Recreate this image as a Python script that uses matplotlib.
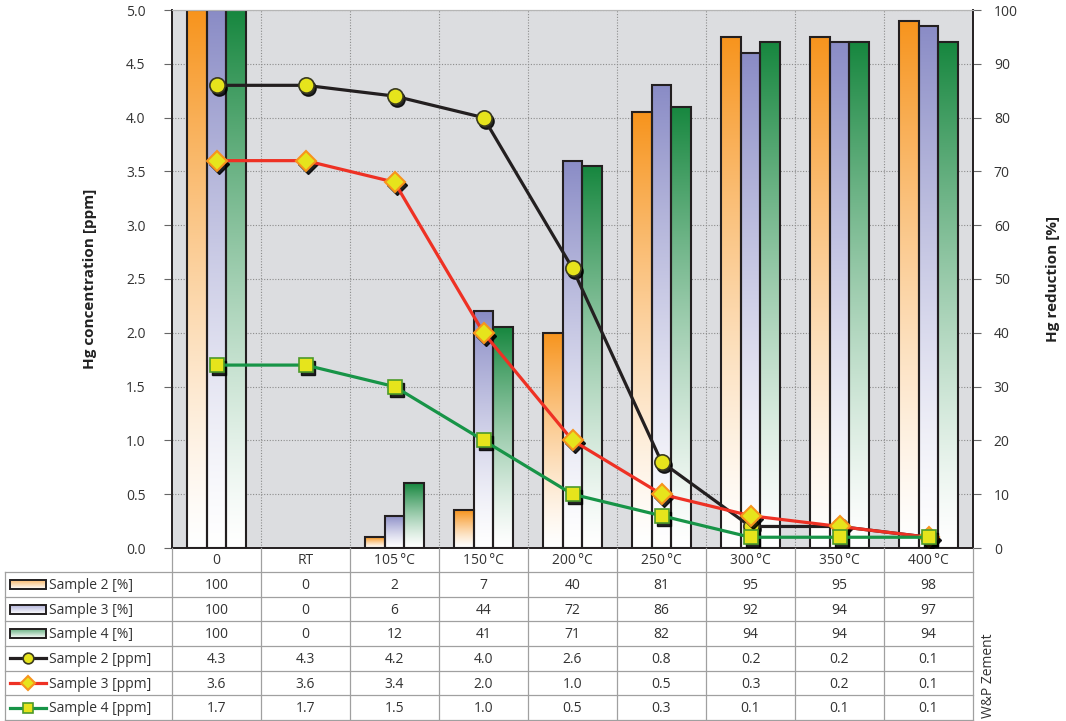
import numpy as np
import matplotlib
matplotlib.use("Agg")
import matplotlib.pyplot as plt
from matplotlib.colors import to_rgb
from matplotlib.patches import Rectangle
from matplotlib.lines import Line2D
from matplotlib.transforms import offset_copy

plt.rcParams['font.family'] = ['Open Sans', 'DejaVu Sans']

# ---- data -------------------------------------------------------------
categories = ["0", "RT", "105\u2009°C", "150\u2009°C", "200\u2009°C",
              "250\u2009°C", "300\u2009°C", "350\u2009°C", "400\u2009°C"]

s2_pct = [100, 0, 2, 7, 40, 81, 95, 95, 98]
s3_pct = [100, 0, 6, 44, 72, 86, 92, 94, 97]
s4_pct = [100, 0, 12, 41, 71, 82, 94, 94, 94]

s2_ppm = [4.3, 4.3, 4.2, 4.0, 2.6, 0.8, 0.2, 0.2, 0.1]
s3_ppm = [3.6, 3.6, 3.4, 2.0, 1.0, 0.5, 0.3, 0.2, 0.1]
s4_ppm = [1.7, 1.7, 1.5, 1.0, 0.5, 0.3, 0.1, 0.1, 0.1]

row_labels = ["Sample 2 [%]", "Sample 3 [%]", "Sample 4 [%]",
              "Sample 2 [ppm]", "Sample 3 [ppm]", "Sample 4 [ppm]"]

# ---- styles -----------------------------------------------------------
ORANGE, BLUE, GREEN = "#f7941d", "#8a8cc6", "#17873f"
BLACK_LINE, RED_LINE, GREEN_LINE = "#231f20", "#ee3124", "#179447"
YELLOW = "#e6e41c"
TXT = "#333333"
TABLE_LINE = "#a0a0a0"
FS = 10

W, H = 1066, 721
fig = plt.figure(figsize=(W / 100, H / 100), dpi=100)
L, R, T, B = 172, 973, 10, 548
ax = fig.add_axes([L / W, 1 - B / H, (R - L) / W, (B - T) / H])
ax.set_facecolor("#dcdde0")
ax2 = ax.twinx()

n = len(categories)
x = np.arange(n)


def gradient(color, steps=256, power=1.3):
    c = np.array(to_rgb(color))
    t = (np.linspace(0, 1, steps) ** power)[:, None]
    img = (1 - t) * np.ones(3) + t * c
    return img[:, None, :]


# ---- bars (right axis, %) ---------------------------------------------
bw = 0.22
bar_sets = [(s2_pct, ORANGE, -bw), (s3_pct, BLUE, 0.0), (s4_pct, GREEN, bw)]
for vals, col, off in bar_sets:
    img = gradient(col)
    for xi, v in zip(x, vals):
        if v <= 0:
            continue
        x0 = xi + off - bw / 2
        ax.imshow(img, extent=(x0, x0 + bw, 0, v), origin="lower",
                  aspect="auto", interpolation="bilinear", zorder=2)
        ax.add_patch(Rectangle((x0, 0), bw, v, fill=False,
                               ec=BLACK_LINE, lw=1.5, zorder=3))

ax.set_xlim(-0.5, n - 0.5)
ax.set_ylim(0, 100)
ax.set_yticks(np.arange(0, 101, 10))
ax.set_xticks([])
ax.set_xticks(np.arange(n - 1) + 0.5, minor=True)
ax.set_axisbelow(True)
ax.grid(True, axis="y", which="major", color="#8c8c8c", ls=(0, (1, 1.5)), lw=0.8)
ax.grid(True, axis="x", which="minor", color="#8c8c8c", ls=(0, (1, 1.5)), lw=0.8)
ax.tick_params(axis="x", which="both", length=0, labelbottom=False)
ax.yaxis.tick_right()
ax.tick_params(axis="y", which="both", left=False, labelleft=False,
               right=True, labelright=True, direction="out", length=6,
               width=0.8, color="#666666", labelsize=FS, labelcolor=TXT, pad=9)

# ---- lines (left axis, ppm) -------------------------------------------
ax2.set_ylim(0, 5)
ax2.set_xlim(-0.5, n - 0.5)
ax2.set_yticks(np.arange(0, 5.01, 0.5))
ax2.set_yticklabels([f"{v:.1f}" for v in np.arange(0, 5.01, 0.5)])
ax2.tick_params(axis="y", which="both", right=False, labelright=False,
                left=True, labelleft=True, direction="out", length=6,
                width=0.8, color="#666666", labelsize=FS, labelcolor=TXT, pad=13)
ax2.tick_params(axis="x", which="both", length=0, labelbottom=False)

shadow = offset_copy(ax2.transData, fig=fig, x=2.5, y=-3, units="dots")
line_sets = [
    (s2_ppm, BLACK_LINE, "o", 11, "#3a3a20", 1.2),
    (s3_ppm, RED_LINE, "D", 10, ORANGE, 1.5),
    (s4_ppm, GREEN_LINE, "s", 10.5, "#4d9a2a", 1.2),
]
z = 5
for vals, col, mk, ms, mec, mew in line_sets:
    ax2.plot(x, vals, ls="none", marker=mk, ms=ms, color="black",
             alpha=0.85, transform=shadow, zorder=z)
    ax2.plot(x, vals, color=col, lw=2.3, marker=mk, ms=ms, mfc=YELLOW,
             mec=mec, mew=mew, zorder=z + 1)
    z += 2

for a in (ax, ax2):
    a.spines["top"].set_color("#b5b5b5")
    for s in ("left", "right", "bottom"):
        a.spines[s].set_color(BLACK_LINE)
        a.spines[s].set_linewidth(1.2)

fig.text(90 / W, 1 - 279 / H, "Hg concentration [ppm]", rotation=90,
         ha="center", va="center", fontsize=11, fontweight="bold", color="#222222")
fig.text(1053 / W, 1 - 279 / H, "Hg reduction [%]", rotation=90,
         ha="center", va="center", fontsize=11, fontweight="bold", color="#222222")

# ---- data table ----------------------------------------------------------
tab = fig.add_axes([0, 0, 1, 1])
tab.set_xlim(0, W)
tab.set_ylim(H, 0)
tab.axis("off")

cw = (R - L) / n
row_h = 24.67
head_top, head_bot = B, 572
rows_y = [head_bot + i * row_h for i in range(7)]

# horizontal rules
for yy in rows_y:
    tab.plot([5, R], [yy, yy], color=TABLE_LINE, lw=0.9)
# vertical rules
tab.plot([5, 5], [rows_y[0], rows_y[-1]], color=TABLE_LINE, lw=0.9)
for k in range(n + 1):
    xx = L + k * cw
    tab.plot([xx, xx], [head_top, rows_y[-1]], color=TABLE_LINE, lw=0.9)

# header
for k, c in enumerate(categories):
    tab.text(L + (k + 0.5) * cw, (head_top + head_bot) / 2 + 1, c,
             ha="center", va="center", fontsize=FS, color=TXT)

table_vals = [s2_pct, s3_pct, s4_pct, s2_ppm, s3_ppm, s4_ppm]
for r, (lab, vals) in enumerate(zip(row_labels, table_vals)):
    yc = rows_y[r] + row_h / 2
    tab.text(49, yc + 1, lab, ha="left", va="center", fontsize=FS, color=TXT)
    for k, v in enumerate(vals):
        s = f"{v:.1f}" if r >= 3 else f"{v:d}"
        tab.text(L + (k + 0.5) * cw, yc + 1, s, ha="center", va="center",
                 fontsize=FS, color=TXT)

# legend keys
for r, (_, col, _) in enumerate(bar_sets):
    yc = rows_y[r] + row_h / 2
    key = gradient(col, power=1.0)
    tab.imshow(0.35 + 0.65 * key, extent=(10, 46, yc + 4.5, yc - 4.5),
               origin="lower", aspect="auto", interpolation="bilinear")
    tab.add_patch(Rectangle((10, yc - 4.5), 36, 9, fill=False, ec=BLACK_LINE, lw=1.4))
for r, (_, col, mk, ms, mec, mew) in enumerate(line_sets):
    yc = rows_y[r + 3] + row_h / 2
    tab.add_line(Line2D([10, 46], [yc, yc], color=col, lw=2.3))
    tab.add_line(Line2D([28], [yc], marker=mk, ms=ms * 0.7, mfc=YELLOW,
                        mec=mec, mew=mew, ls="none"))
tab.set_xlim(0, W)
tab.set_ylim(H, 0)

fig.text(988 / W, 3 / H, "W&P Zement", rotation=90, ha="center", va="bottom",
         fontsize=10, color=TXT)

fig.savefig("out.png", dpi=100)
